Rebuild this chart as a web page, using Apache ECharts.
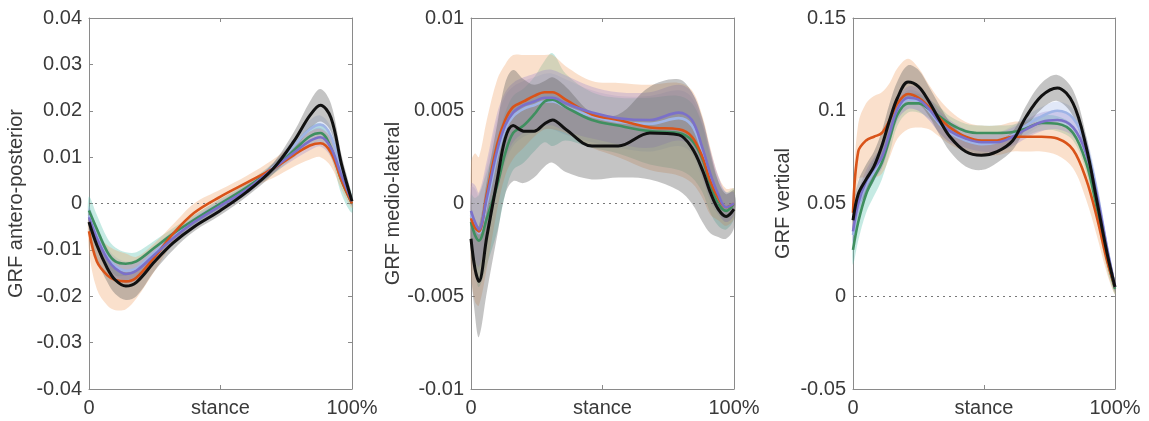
<!DOCTYPE html>
<html lang="en">
<head>
    <meta charset="UTF-8">
    <title>GRF stance curves</title>
    <script src="https://cdn.jsdelivr.net/npm/echarts@6/dist/echarts.min.js"></script>
    <style>
        html,
        body {
            margin: 0;
            width: 100%;
            height: 100%;
            background: #ffffff;
        }

        #chart {
            width: 1149px;
            height: 421px;
        }
    </style>
</head>
<body>
    <div id="chart"></div>
    <script>
        // % stance sample points for each panel
        var apX = [0, 3, 7, 10, 14, 18, 25, 32, 40, 50, 60, 70, 78, 84, 88, 92, 96, 100];
        var mlX = [0, 1.5, 3, 6, 10, 13, 16, 20, 24, 28, 31, 36, 46, 56, 68, 79, 84, 88, 91, 94, 97, 100];
        var vX = [0, 2, 5, 8, 11, 14, 17, 21, 25, 29, 33, 37, 43, 49, 55, 61, 66, 72, 78, 84, 89, 93, 97, 100];

        // antero-posterior: means and sd
        var apBlack = [-0.004, -0.009, -0.014, -0.0165, -0.0178, -0.017, -0.0125, -0.0085, -0.005, -0.0015, 0.0025, 0.0075, 0.0135, 0.019, 0.0212, 0.0185, 0.0085, 0.0005];
        var apBlackSd = [0.002, 0.003, 0.003, 0.003, 0.003, 0.003, 0.002, 0.0015, 0.001, 0.001, 0.001, 0.0012, 0.002, 0.003, 0.0035, 0.003, 0.002, 0.001];
        var apOrange = [-0.006, -0.0125, -0.0155, -0.0165, -0.0168, -0.016, -0.0115, -0.0065, -0.002, 0.0015, 0.0045, 0.0075, 0.0105, 0.0125, 0.013, 0.011, 0.005, 0.0];
        var apOrangeSd = [0.004, 0.006, 0.0065, 0.0065, 0.006, 0.0045, 0.003, 0.002, 0.002, 0.0015, 0.0015, 0.002, 0.0025, 0.003, 0.003, 0.003, 0.002, 0.001];
        var apGreen = [-0.0015, -0.0055, -0.0105, -0.0125, -0.013, -0.0125, -0.0095, -0.0065, -0.0035, 0.0, 0.0035, 0.0075, 0.0115, 0.0145, 0.0152, 0.012, 0.005, 0.0];
        var apGreenSd = [0.003, 0.003, 0.003, 0.003, 0.0025, 0.002, 0.0015, 0.0012, 0.001, 0.001, 0.001, 0.0012, 0.0015, 0.002, 0.002, 0.002, 0.003, 0.002];
        var apPurple = [-0.003, -0.0075, -0.012, -0.014, -0.0152, -0.0145, -0.011, -0.0075, -0.004, -0.0005, 0.003, 0.0075, 0.011, 0.0135, 0.0143, 0.012, 0.006, 0.0005];
        var apPurpleSd = [0.002, 0.002, 0.002, 0.002, 0.002, 0.002, 0.0015, 0.0012, 0.001, 0.001, 0.001, 0.001, 0.0015, 0.002, 0.002, 0.002, 0.0015, 0.001];
        var apBlue = [-0.0025, -0.007, -0.0115, -0.0135, -0.0145, -0.014, -0.0105, -0.007, -0.0035, 0.0, 0.0032, 0.0078, 0.0125, 0.016, 0.017, 0.0145, 0.007, 0.0005];
        var apBlueSd = [0.002, 0.002, 0.002, 0.002, 0.002, 0.002, 0.0015, 0.0012, 0.001, 0.001, 0.001, 0.001, 0.0015, 0.002, 0.002, 0.002, 0.0015, 0.001];

        // medio-lateral
        var mlBlack = [-0.0019, -0.0035, -0.0042, -0.0018, 0.0013, 0.0035, 0.0042, 0.0039, 0.0039, 0.0043, 0.0045, 0.004, 0.0031, 0.0031, 0.0038, 0.0037, 0.003, 0.0018, 0.0006, -0.0003, -0.0007, -0.0003];
        var mlBlackSd = [0.0015, 0.0025, 0.003, 0.003, 0.003, 0.003, 0.003, 0.0028, 0.0025, 0.0023, 0.0023, 0.0023, 0.0018, 0.0017, 0.0025, 0.003, 0.003, 0.0028, 0.0022, 0.0015, 0.0012, 0.001];
        var mlOrange = [-0.0008, -0.0013, -0.0015, 0.0005, 0.0032, 0.0045, 0.0052, 0.0055, 0.0058, 0.006, 0.006, 0.0056, 0.0048, 0.0045, 0.0041, 0.004, 0.0036, 0.0025, 0.0012, 0.0003, -0.0002, 0.0];
        var mlOrangeSd = [0.003, 0.004, 0.004, 0.004, 0.0035, 0.003, 0.0028, 0.0025, 0.0022, 0.002, 0.002, 0.0018, 0.0018, 0.002, 0.0023, 0.0025, 0.0025, 0.0022, 0.0018, 0.0012, 0.001, 0.0008];
        var mlGreen = [-0.001, -0.0017, -0.002, -0.0008, 0.001, 0.0027, 0.0038, 0.0042, 0.0048, 0.0055, 0.0056, 0.0052, 0.0045, 0.0042, 0.0039, 0.0038, 0.0034, 0.0024, 0.001, 0.0, -0.0004, 0.0];
        var mlGreenSd = [0.0015, 0.002, 0.0025, 0.0025, 0.0025, 0.0022, 0.002, 0.002, 0.002, 0.0022, 0.0025, 0.0018, 0.0015, 0.0015, 0.0018, 0.002, 0.002, 0.0018, 0.0015, 0.0012, 0.001, 0.0008];
        var mlPurple = [-0.0004, -0.001, -0.0014, 0.0003, 0.0029, 0.0042, 0.0049, 0.0053, 0.0055, 0.0057, 0.0057, 0.0054, 0.0049, 0.0046, 0.0045, 0.0049, 0.0045, 0.003, 0.0016, 0.0005, -0.0002, 0.0];
        var mlPurpleSd = [0.0015, 0.002, 0.002, 0.002, 0.002, 0.0018, 0.0016, 0.0015, 0.0015, 0.0015, 0.0015, 0.0015, 0.0014, 0.0014, 0.0015, 0.0015, 0.0015, 0.0015, 0.0013, 0.001, 0.0008, 0.0006];
        var mlBlue = [-0.0006, -0.0012, -0.0016, 0.0, 0.0026, 0.004, 0.0047, 0.0051, 0.0053, 0.0055, 0.0055, 0.0052, 0.0047, 0.0044, 0.0043, 0.0046, 0.0042, 0.0028, 0.0014, 0.0004, -0.0002, 0.0];
        var mlBlueSd = [0.0015, 0.002, 0.002, 0.002, 0.002, 0.0018, 0.0016, 0.0015, 0.0015, 0.0015, 0.0015, 0.0015, 0.0014, 0.0014, 0.0015, 0.0015, 0.0015, 0.0015, 0.0013, 0.001, 0.0008, 0.0006];

        // vertical
        var vBlack = [0.041, 0.055, 0.063, 0.07, 0.081, 0.095, 0.107, 0.1155, 0.113, 0.105, 0.095, 0.086, 0.078, 0.076, 0.078, 0.084, 0.0966, 0.108, 0.1123, 0.104, 0.0805, 0.052, 0.023, 0.005];
        var vBlackSd = [0.006, 0.007, 0.008, 0.008, 0.008, 0.009, 0.009, 0.009, 0.009, 0.008, 0.008, 0.008, 0.008, 0.008, 0.006, 0.005, 0.006, 0.007, 0.007, 0.007, 0.006, 0.005, 0.004, 0.003];
        var vOrange = [0.045, 0.078, 0.084, 0.086, 0.088, 0.095, 0.104, 0.109, 0.107, 0.102, 0.096, 0.091, 0.086, 0.084, 0.084, 0.086, 0.086, 0.086, 0.085, 0.079, 0.063, 0.043, 0.019, 0.005];
        var vOrangeSd = [0.01, 0.015, 0.02, 0.022, 0.022, 0.02, 0.019, 0.019, 0.016, 0.012, 0.01, 0.009, 0.008, 0.008, 0.008, 0.008, 0.008, 0.008, 0.009, 0.01, 0.011, 0.01, 0.007, 0.004];
        var vGreen = [0.025, 0.04, 0.055, 0.064, 0.072, 0.085, 0.098, 0.104, 0.104, 0.101, 0.097, 0.093, 0.089, 0.088, 0.088, 0.0885, 0.0905, 0.0934, 0.093, 0.088, 0.072, 0.048, 0.02, 0.004];
        var vGreenSd = [0.008, 0.01, 0.01, 0.01, 0.009, 0.008, 0.006, 0.005, 0.005, 0.005, 0.005, 0.004, 0.004, 0.004, 0.004, 0.004, 0.004, 0.004, 0.004, 0.004, 0.005, 0.006, 0.006, 0.003];
        var vPurple = [0.035, 0.05, 0.062, 0.069, 0.075, 0.088, 0.101, 0.107, 0.106, 0.101, 0.094, 0.089, 0.085, 0.083, 0.083, 0.086, 0.09, 0.094, 0.095, 0.091, 0.077, 0.055, 0.025, 0.005];
        var vPurpleSd = [0.006, 0.006, 0.006, 0.006, 0.006, 0.006, 0.006, 0.006, 0.006, 0.006, 0.006, 0.006, 0.005, 0.005, 0.005, 0.005, 0.005, 0.005, 0.005, 0.005, 0.005, 0.005, 0.004, 0.002];
        var vBlue = [0.033, 0.048, 0.06, 0.067, 0.074, 0.087, 0.1, 0.106, 0.105, 0.1, 0.093, 0.088, 0.084, 0.082, 0.083, 0.087, 0.092, 0.097, 0.1, 0.096, 0.081, 0.057, 0.026, 0.005];
        var vBlueSd = [0.005, 0.005, 0.005, 0.005, 0.005, 0.005, 0.005, 0.005, 0.005, 0.005, 0.005, 0.005, 0.005, 0.005, 0.005, 0.005, 0.005, 0.005, 0.005, 0.005, 0.005, 0.005, 0.004, 0.002];

        // axis setup
        var yNames = ['GRF antero-posterior', 'GRF medio-lateral', 'GRF vertical'];
        var yMin = [-0.04, -0.01, -0.05];
        var yMax = [0.04, 0.01, 0.15];
        var yStep = [0.01, 0.005, 0.05];
        var xTickLabels = { 0: '0', 50: 'stance', 100: '100%' };

        var lineColor = { blue: '#9fb4e6', green: '#3f8f5f', orange: '#d95319', purple: '#7b70c9', black: '#111111' };
        var bandColor = {
            blue: 'rgba(170,190,235,0.35)',
            green: 'rgba(80,190,170,0.33)',
            orange: 'rgba(240,160,100,0.33)',
            purple: 'rgba(150,130,205,0.3)',
            black: 'rgba(100,100,100,0.38)'
        };
        var order = ['blue', 'green', 'orange', 'purple', 'black'];

        var panels = [
            { x: apX, blue: [apBlue, apBlueSd], green: [apGreen, apGreenSd], orange: [apOrange, apOrangeSd], purple: [apPurple, apPurpleSd], black: [apBlack, apBlackSd] },
            { x: mlX, blue: [mlBlue, mlBlueSd], green: [mlGreen, mlGreenSd], orange: [mlOrange, mlOrangeSd], purple: [mlPurple, mlPurpleSd], black: [mlBlack, mlBlackSd] },
            { x: vX, blue: [vBlue, vBlueSd], green: [vGreen, vGreenSd], orange: [vOrange, vOrangeSd], purple: [vPurple, vPurpleSd], black: [vBlack, vBlackSd] }
        ];

        var gridPos = [
            { left: 89, top: 18, width: 263, height: 371 },
            { left: 471, top: 18, width: 263, height: 371 },
            { left: 853, top: 18, width: 262, height: 371 }
        ];
        var nameGaps = [63, 67, 60];
        var labelFont = 'Liberation Sans';
        var txt = '#3a3a3a';
        var axisGray = '#8a8a8a';

        // shaded mean +/- sd band, drawn as one polygon through the axis scales
        function bandItem(params, api, rows, fill) {
            if (params.dataIndex !== 0) return null;
            var pts = [];
            var i;
            for (i = 0; i < rows.length; i++) pts.push(api.coord([rows[i][0], rows[i][2]]));
            for (i = rows.length - 1; i >= 0; i--) pts.push(api.coord([rows[i][0], rows[i][1]]));
            return {
                type: 'polygon',
                shape: { points: pts, smooth: 0.35 },
                style: { fill: fill, stroke: null },
                silent: true
            };
        }

        var grids = [], xAxes = [], yAxes = [], series = [];

        panels.forEach(function (pn, p) {
            grids.push(gridPos[p]);
            xAxes.push({
                type: 'value', gridIndex: p, min: 0, max: 100, interval: 50,
                axisLine: { onZero: false, lineStyle: { color: axisGray, width: 1 } },
                axisTick: { inside: true, length: 4, lineStyle: { color: axisGray } },
                splitLine: { show: false },
                axisLabel: {
                    margin: 9, color: txt, fontSize: 20, fontFamily: labelFont,
                    formatter: function (v) { return xTickLabels[v]; }
                }
            });
            yAxes.push({
                type: 'value', gridIndex: p, min: yMin[p], max: yMax[p], interval: yStep[p],
                name: yNames[p], nameLocation: 'middle', nameRotate: 90, nameGap: nameGaps[p],
                nameTextStyle: { color: txt, fontSize: 20, fontFamily: labelFont },
                axisLine: { show: true, onZero: false, lineStyle: { color: axisGray, width: 1 } },
                axisTick: { inside: true, length: 4, lineStyle: { color: axisGray } },
                splitLine: { show: false },
                axisLabel: { margin: 7, color: txt, fontSize: 20, fontFamily: labelFont }
            });

            order.forEach(function (g) {
                var m = pn[g][0], s = pn[g][1];
                var rows = pn.x.map(function (xv, k) { return [xv, m[k] - s[k], m[k] + s[k]]; });
                series.push({
                    type: 'custom', xAxisIndex: p, yAxisIndex: p,
                    data: rows, encode: { x: 0, y: [1, 2] },
                    renderItem: function (params, api) {
                        return bandItem(params, api, rows, bandColor[g]);
                    },
                    silent: true, z: 1
                });
            });

            order.forEach(function (g, i) {
                var m = pn[g][0];
                var s = {
                    type: 'line', xAxisIndex: p, yAxisIndex: p,
                    data: pn.x.map(function (xv, k) { return [xv, m[k]]; }),
                    symbol: 'none', smooth: 0.35, silent: true,
                    lineStyle: { color: lineColor[g], width: g === 'black' ? 3 : 2.6 },
                    z: 3 + i
                };
                if (i === 0) {
                    // dotted zero line
                    s.markLine = {
                        silent: true, symbol: 'none', label: { show: false },
                        lineStyle: { type: [2, 4], color: '#777', width: 1 },
                        data: [{ yAxis: 0 }]
                    };
                }
                series.push(s);
            });
        });

        // mirrored box axes (top and right) with inward ticks
        panels.forEach(function (pn, p) {
            xAxes.push({
                type: 'value', gridIndex: p, position: 'top', min: 0, max: 100, interval: 50,
                axisLine: { onZero: false, lineStyle: { color: axisGray, width: 1 } },
                axisTick: { inside: true, length: 4, lineStyle: { color: axisGray } },
                axisLabel: { show: false }, splitLine: { show: false }
            });
            yAxes.push({
                type: 'value', gridIndex: p, position: 'right', min: yMin[p], max: yMax[p], interval: yStep[p],
                axisLine: { show: true, onZero: false, lineStyle: { color: axisGray, width: 1 } },
                axisTick: { inside: true, length: 4, lineStyle: { color: axisGray } },
                axisLabel: { show: false }, splitLine: { show: false }
            });
        });

        var chart = echarts.init(document.getElementById('chart'));
        chart.setOption({
            animation: false,
            backgroundColor: '#ffffff',
            grid: grids,
            xAxis: xAxes,
            yAxis: yAxes,
            series: series
        });
    </script>
</body>
</html>
